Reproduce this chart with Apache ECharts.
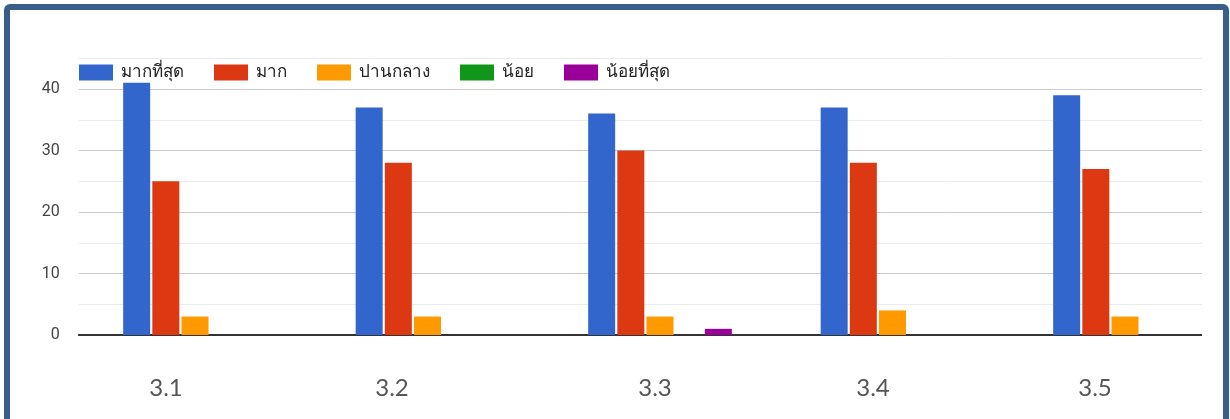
<!DOCTYPE html>
<html>
<head>
<meta charset="utf-8">
<script src="https://cdn.jsdelivr.net/npm/echarts@6/dist/echarts.min.js"></script>
<style>
  html, body { margin: 0; padding: 0; background: #ffffff; overflow: hidden; width: 1230px; height: 419px; }
  #chart { width: 1270px; height: 419px; }
</style>
</head>
<body>
<div id="chart"></div>
<script>
const categories = ['3.1', '3.2', '3.3', '3.4', '3.5'];
const seriesNames = ['มากที่สุด', 'มาก', 'ปานกลาง', 'น้อย', 'น้อยที่สุด'];
const mostValues = [41, 37, 36, 37, 39];
const muchValues = [25, 28, 30, 28, 27];
const mediumValues = [3, 3, 3, 4, 3];
const littleValues = [0, 0, 0, 0, 0];
const leastValues = [0, 0, 1, 0, 0];
const yTickLabels = ['0', '10', '20', '30', '40'];

const seriesValues = [mostValues, muchValues, mediumValues, littleValues, leastValues];
const colors = ['#3366cc', '#dc3912', '#ff9900', '#109618', '#990099'];
const labelShift = [58, 71, 10, 39, 60];

const rich = {};
labelShift.forEach((s, i) => {
  rich['l' + i] = { fontSize: 24, color: '#555555', fontFamily: 'Lato, Roboto, sans-serif', padding: [0, s, 0, 0] };
});

const chart = echarts.init(document.getElementById('chart'), null, { renderer: 'canvas' });
const option = {
  animation: false,
  color: colors,
  textStyle: { fontFamily: 'Roboto, "Noto Sans", "DejaVu Sans", sans-serif' },
  legend: {
    data: seriesNames,
    left: 79,
    top: 64,
    padding: 0,
    itemWidth: 34,
    itemHeight: 16,
    itemGap: 30,
    icon: 'rect',
    textStyle: { fontSize: 17, color: '#222222', padding: [0, 0, 0, 3] }
  },
  grid: { left: 78.75, top: 58.25, width: 1162.5, height: 276.75, containLabel: false },
  xAxis: {
    type: 'category',
    data: categories,
    axisLine: { show: true, lineStyle: { color: '#333333', width: 2 } },
    axisTick: { show: false },
    axisLabel: {
      margin: 41,
      formatter: (v, i) => '{l' + i + '|' + v + '}',
      rich: rich
    },
    splitLine: { show: false }
  },
  yAxis: {
    type: 'value',
    min: 0,
    max: 45,
    interval: 5,
    axisLine: { show: false },
    axisTick: { show: false },
    axisLabel: {
      margin: 19,
      fontSize: 16,
      color: '#444444',
      formatter: v => (yTickLabels.indexOf(String(v)) >= 0 ? String(v) : '')
    },
    splitLine: { show: true, lineStyle: { color: ['#cccccc', '#ebebeb'], width: 1 } }
  },
  series: seriesNames.map((name, i) => ({
    name: name,
    type: 'bar',
    data: seriesValues[i],
    barCategoryGap: '38.2%',
    barGap: '8%',
    itemStyle: { color: colors[i] }
  })),
  graphic: [
    { type: 'rect', z: 100, shape: { x: 1202, y: 10, width: 21, height: 409 }, style: { fill: '#ffffff' } },
    { type: 'rect', z: 101, shape: { x: 1223, y: 0, width: 47, height: 419 }, style: { fill: '#ffffff' } },
    { type: 'rect', z: 102, shape: { x: 7, y: 7, width: 1219, height: 430, r: 3 }, style: { fill: 'none', stroke: '#3a5e8c', lineWidth: 6 } }
  ]
};
chart.setOption(option);
</script>
</body>
</html>
